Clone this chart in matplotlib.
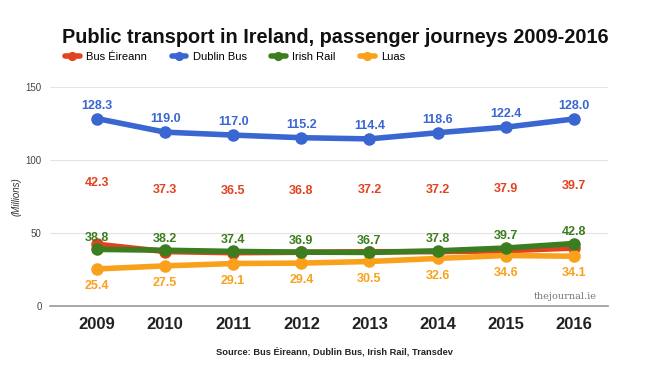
import matplotlib.pyplot as plt

years = [2009, 2010, 2011, 2012, 2013, 2014, 2015, 2016]
bus_eireann = [42.3, 37.3, 36.5, 36.8, 37.2, 37.2, 37.9, 39.7]
dublin_bus = [128.3, 119.0, 117.0, 115.2, 114.4, 118.6, 122.4, 128.0]
irish_rail = [38.8, 38.2, 37.4, 36.9, 36.7, 37.8, 39.7, 42.8]
luas = [25.4, 27.5, 29.1, 29.4, 30.5, 32.6, 34.6, 34.1]

plt.rcParams['font.family'] = ['Liberation Sans', 'DejaVu Sans']

fig = plt.figure(figsize=(6.5, 3.76), dpi=100)
ax = fig.add_axes([0.077, 0.186, 0.858, 0.583])

red = '#e2421f'
blue = '#3a66d2'
green = '#3b7d1f'
orange = '#f9a11b'

# (series, colour, label, label offset in points)
series = [
    (bus_eireann, red, 'Bus Éireann', 40),
    (dublin_bus, blue, 'Dublin Bus', 5),
    (luas, orange, 'Luas', -8),
    (irish_rail, green, 'Irish Rail', 4),
]
handles = {}
for vals, col, name, off in series:
    h, = ax.plot(years, vals, color=col, lw=4, marker='o', ms=8,
                 solid_capstyle='round', label=name)
    handles[name] = h
    for x, y in zip(years, vals):
        ax.annotate(f'{y:.1f}', (x, y), xytext=(0, off), textcoords='offset points',
                    ha='center', va='bottom' if off > 0 else 'top',
                    fontsize=9, fontweight='bold', color=col)

ax.set_xlim(2008.31, 2016.5)
ax.set_ylim(0, 150)
ax.set_yticks([0, 50, 100, 150])
ax.set_xticks(years)
ax.set_xticklabels([str(y) for y in years], fontsize=12, fontweight='bold', color='#222222')
ax.tick_params(axis='y', labelsize=7, colors='#444444', length=0, pad=6)
ax.tick_params(axis='x', length=0, pad=8)
ax.grid(axis='y', color='#e4e4e4', lw=0.8)
ax.set_axisbelow(True)
for s in ['top', 'right', 'left']:
    ax.spines[s].set_visible(False)
ax.spines['bottom'].set_color('#999999')
ax.spines['bottom'].set_linewidth(1.2)
ax.set_ylabel('(Millions)', fontsize=7, style='italic', color='#333333', labelpad=3)

fig.text(0.095, 0.9, 'Public transport in Ireland, passenger journeys 2009-2016',
         fontsize=14.3, fontweight='bold', color='#111111', va='center')
order = ['Bus Éireann', 'Dublin Bus', 'Irish Rail', 'Luas']
fig.legend([handles[n] for n in order], order, loc='center left',
           bbox_to_anchor=(0.085, 0.848), ncol=4, frameon=False, fontsize=8,
           handlelength=1.3, columnspacing=2.2, handletextpad=0.6, markerscale=0.7)

fig.text(0.87, 0.205, 'thejournal.ie', fontsize=7, family='DejaVu Serif',
         color='#777777', ha='center')
fig.text(0.515, 0.058, 'Source: Bus Éireann, Dublin Bus, Irish Rail, Transdev',
         fontsize=6.7, fontweight='bold', color='#222222', ha='center')

fig.savefig('out.png', dpi=100)
